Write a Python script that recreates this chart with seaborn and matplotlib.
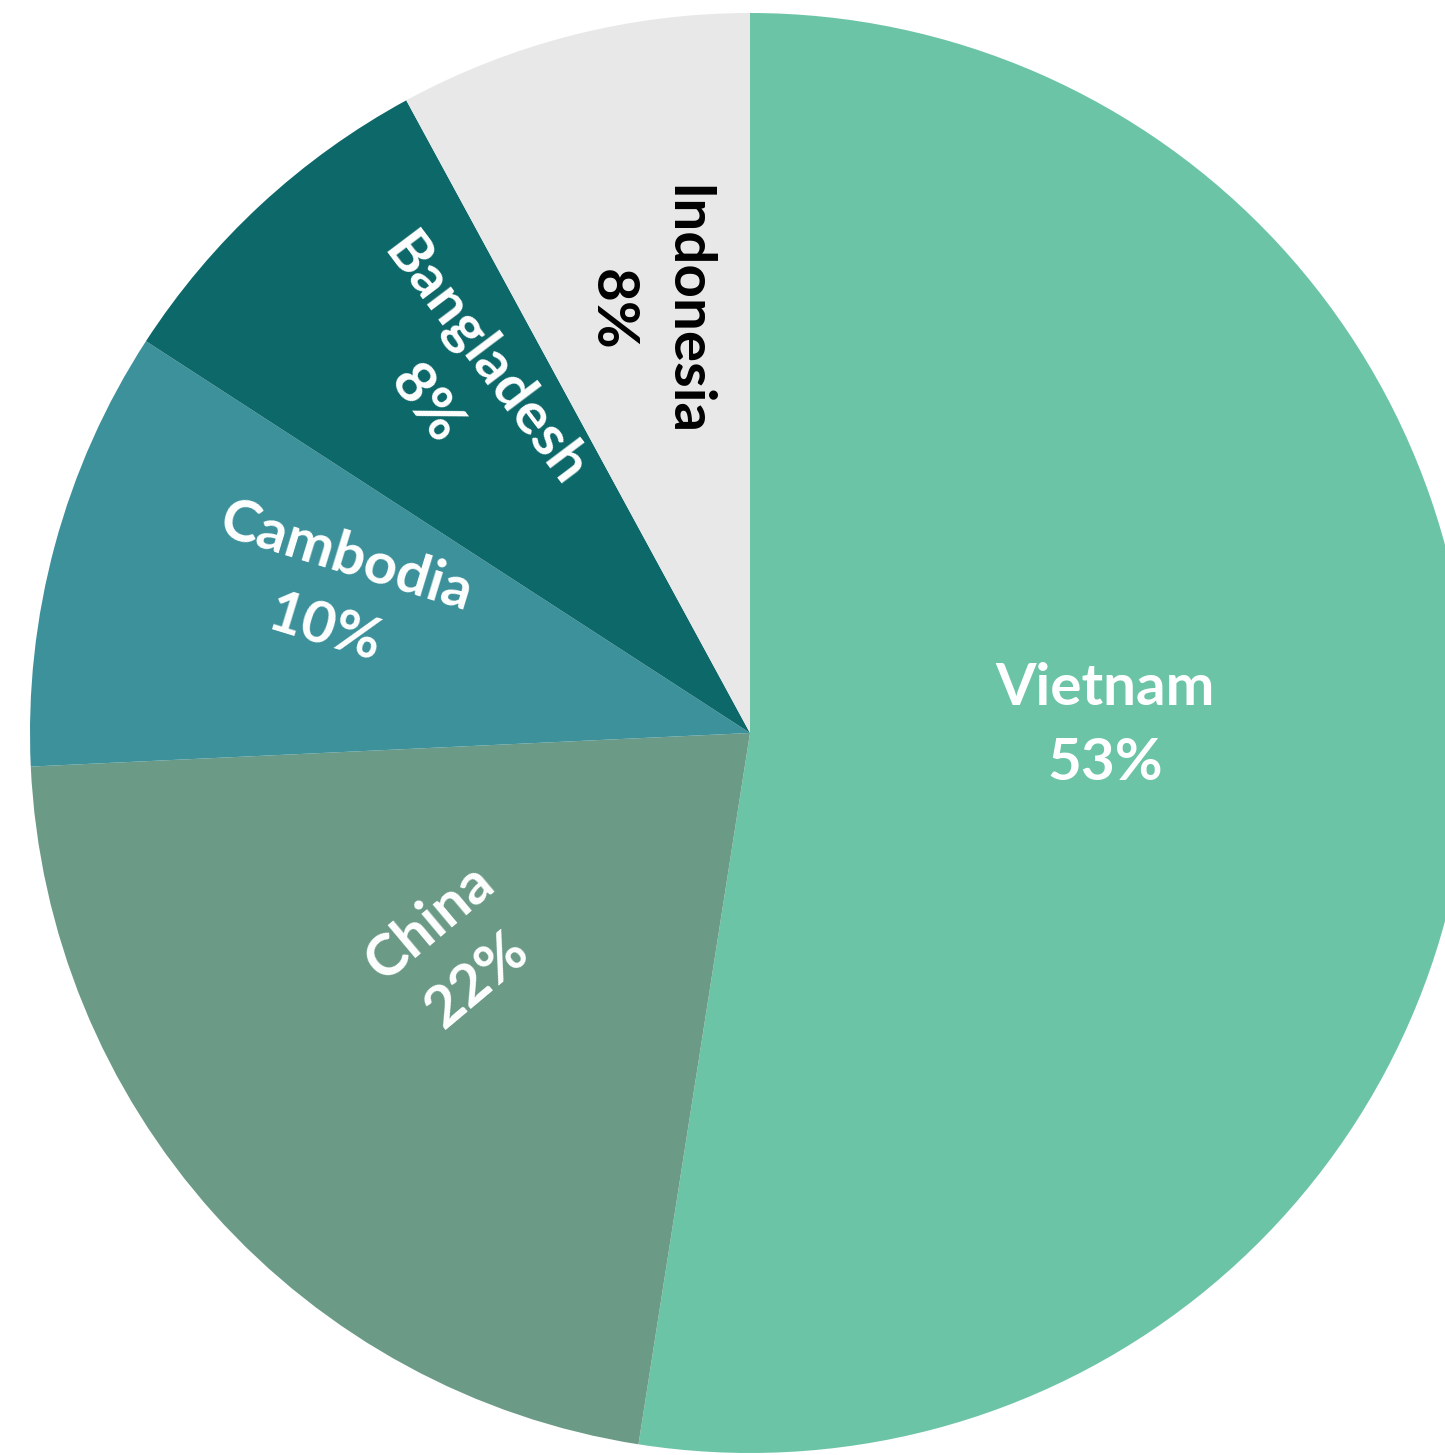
import numpy as np
import matplotlib
matplotlib.use("Agg")
import matplotlib.pyplot as plt
import seaborn as sns

# Share of production by country
countries = ["Vietnam", "China", "Cambodia", "Bangladesh", "Indonesia"]
shares = [53, 22, 10, 8, 8]

colors = ["#6CC4A7", "#6B9A87", "#3D919B", "#0D686A", "#E8E8E8"]
text_colors = ["white", "white", "white", "white", "black"]
# label placement relative to each wedge: radius fraction, angular shift (deg), text rotation
label_radius = [0.493, 0.511, 0.608, 0.636, 0.604]
label_shift = [5.6, -5.5, -3.5, -2.7, -0.7]
label_rotation = [0, 40, -17, -53, -90]

sns.set_theme(style="white")
plt.rcParams["font.family"] = ["Lato", "DejaVu Sans"]

W, H = 1445, 1455
fig = plt.figure(figsize=(W / 100, H / 100), dpi=100)
ax = fig.add_axes([0, 0, 1, 1])

cx, cy, R = 750, 733, 720
wedges, _ = ax.pie(
    shares,
    colors=colors,
    startangle=90,
    counterclock=False,
    radius=1.0,
    wedgeprops=dict(linewidth=0, antialiased=True),
)

ax.set_xlim(-cx / R, (W - cx) / R)
ax.set_ylim(-(H - cy) / R, cy / R)
ax.set_aspect("auto")
ax.axis("off")

for w, name, val, r, sh, rot, tc in zip(wedges, countries, shares, label_radius,
                                         label_shift, label_rotation, text_colors):
    mid = np.deg2rad((w.theta1 + w.theta2) / 2 + sh)
    x, y = r * np.cos(mid), r * np.sin(mid)
    ax.text(x, y, f"{name}\n{val}%", ha="center", va="center",
            multialignment="center", rotation=rot, rotation_mode="anchor",
            color=tc, fontsize=42, fontweight="bold", linespacing=1.5)

fig.savefig("out.png", dpi=100)
